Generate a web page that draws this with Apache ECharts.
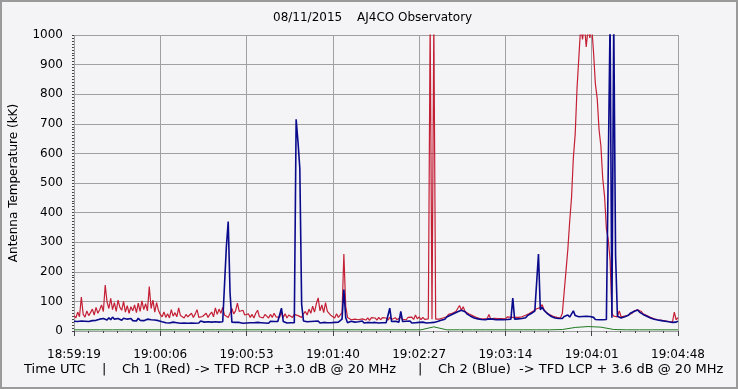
<!DOCTYPE html>
<html>
<head>
<meta charset="utf-8">
<script src="https://cdn.jsdelivr.net/npm/echarts@6/dist/echarts.min.js"></script>
<style>html,body{margin:0;padding:0;background:#f4f4f7;}#c{width:738px;height:389px;}</style>
</head>
<body>
<div id="c"></div>
<script>
// x tick labels (every 47 s from 18:59:19)
var tickLabels = ['18:59:19','19:00:06','19:00:53','19:01:40','19:02:27','19:03:14','19:04:01','19:04:48'];
var yTicks = [0,100,200,300,400,500,600,700,800,900,1000];
// Sample step (seconds) for each channel
var chStep = 1;
var greenStep = 7;
// Ch 1 (Red) antenna temperature, one sample per second from 18:59:19
var red = [
52,44,64,48,115,56,47,68,52,62,
74,54,80,60,72,88,66,155,98,76,
110,72,96,66,104,80,70,100,64,86,
60,82,68,88,62,94,66,102,72,92,
68,150,76,104,64,96,70,56,48,64,
46,58,44,72,50,62,48,78,52,46,
44,56,48,42,60,46,57,72,46,52,
49,44,60,46,56,64,48,78,56,74,
60,80,54,58,46,60,76,58,68,94,
66,60,70,54,48,58,46,56,44,60,
70,48,52,44,56,62,44,56,46,60,
48,54,46,64,46,58,44,54,60,46,
56,62,52,56,46,58,66,54,74,60,
84,64,92,112,68,88,62,96,66,64,
52,56,44,58,46,50,62,260,84,46,
46,38,43,40,46,38,44,41,47,37,
44,36,45,39,44,37,46,38,45,40,
44,37,46,39,42,45,38,44,47,39,
45,38,46,40,47,39,54,41,48,38,
46,39,44,41,1050,40,1050,40,46,40,
46,44,50,48,56,54,60,58,66,64,
86,70,82,66,66,58,58,52,52,46,
48,42,47,41,46,41,56,41,47,43,
45,42,47,42,46,41,48,42,46,44,
46,41,46,45,48,47,53,51,59,58,
67,66,75,72,79,89,72,64,64,56,
56,50,52,46,48,44,60,132,204,276,
370,450,585,665,820,925,1030,985,1040,960,
1020,990,1030,940,835,785,680,625,515,455,
345,310,240,60,50,48,48,68,48,50,
50,56,54,60,60,67,65,72,66,66,
58,59,52,52,46,47,41,44,38,41,
36,39,34,37,32,36,31,64,38,45
];
// Ch 2 (Blue) antenna temperature, one sample per second
var blue = [
33,37,32,36,34,38,33,37,32,36,
35,40,36,42,40,43,42,46,37,45,
38,47,40,42,42,44,36,43,37,40,
36,42,35,41,34,43,36,42,35,41,
40,40,38,41,37,43,35,36,31,33,
28,33,27,32,30,31,28,33,26,32,
27,33,26,32,27,33,26,32,27,34,
28,30,29,31,28,30,29,31,28,30,
28,31,29,285,370,130,30,32,29,31,
29,32,26,32,27,33,28,30,28,31,
29,31,28,34,27,32,26,33,27,32,
30,32,27,77,32,32,27,33,28,30,
28,715,640,550,90,34,28,31,29,32,
27,33,28,34,27,32,29,31,28,34,
28,31,29,32,30,32,40,140,45,28,
27,33,28,30,29,31,28,34,27,32,
29,31,28,30,29,32,27,33,28,30,
28,33,77,32,27,33,28,30,66,32,
27,33,28,34,27,33,28,31,29,32,
30,32,27,33,28,34,29,35,32,38,
36,42,40,47,46,53,52,59,58,65,
64,70,64,65,58,58,50,51,44,46,
41,44,39,44,38,43,41,42,40,43,
38,44,39,45,38,44,39,45,40,111,
40,43,41,44,42,47,45,52,51,59,
59,67,67,260,72,80,70,68,58,57,
49,50,44,47,42,45,42,49,48,54,
47,53,68,52,46,48,47,49,43,50,
44,49,43,46,39,41,38,40,38,41,
39,42,1050,45,1050,255,50,49,44,50,
48,54,53,60,59,66,64,71,64,64,
56,57,50,51,44,46,40,42,37,40,
35,38,33,36,31,34,29,32,30,33
];
// Green trace, one sample every 7 s
var green = [
4,4,4,4,4,4,4,4,4,4,
4,4,4,4,4,4,4,4,4,4,
4,4,4,4,4,4,4,4,14,4,
4,4,4,4,4,4,4,4,5,12,
15,13,5,4,4,4,4,4
];

var chart = echarts.init(document.getElementById('c'), null, {renderer:'canvas'});
var font = 'DejaVu Sans';
function pts(arr, step){ return arr.map(function(v,i){ return [i*step, v]; }); }
var f12 = '12px "DejaVu Sans"';
var f13 = '13px "DejaVu Sans"';

chart.setOption({
  animation: false,
  backgroundColor: '#f4f4f7',
  grid: {left: 73, right: 60, top: 35, bottom: 58, containLabel: false},
  graphic: [
    {type:'rect', shape:{x:1,y:1,width:736,height:387}, style:{fill:'none', stroke:'#9a9a9a', lineWidth:2}, silent:true},
    {type:'text', left: 273, top: 12, style:{text:'08/11/2015', font:f12, fill:'#000'}},
    {type:'text', left: 357, top: 12, style:{text:'AJ4CO Observatory', font:f12, fill:'#000'}},
    {type:'text', left: 24, top: 363, style:{text:'Time UTC', font:f13, fill:'#000'}},
    {type:'text', left: 102, top: 363, style:{text:'|', font:f13, fill:'#000'}},
    {type:'text', left: 122, top: 363, style:{text:'Ch 1 (Red) -> TFD RCP +3.0 dB @ 20 MHz', font:f13, fill:'#000'}},
    {type:'text', left: 418, top: 363, style:{text:'|', font:f13, fill:'#000'}},
    {type:'text', left: 438, top: 363, style:{text:'Ch 2 (Blue)  -> TFD LCP + 3.6 dB @ 20 MHz', font:f13, fill:'#000'}}
  ],
  xAxis: {
    type: 'value', min: 0, max: 329, interval: 47, offset: 6,
    axisLine: {show: false},
    axisTick: {show: true, length: 5, lineStyle: {color: '#444'}},
    minorTick: {show: true, splitNumber: 6, length: 2, lineStyle: {color: '#444'}},
    axisLabel: {margin: 12, color: '#000', fontFamily: font, fontSize: 12,
      formatter: function(v){ return tickLabels[Math.round(v/47)] || ''; }},
    splitLine: {show: true, lineStyle: {color: '#a0a0a0', width: 1}}
  },
  yAxis: {
    type: 'value', min: 0, max: 1000, interval: 100, offset: 3,
    name: 'Antenna Temperature (kK)', nameLocation: 'middle', nameGap: 51,
    nameTextStyle: {color: '#000', fontFamily: font, fontSize: 12},
    axisLine: {show: false},
    axisTick: {show: true, length: 2, lineStyle: {color: '#444'}},
    minorTick: {show: true, splitNumber: 10, length: 2, lineStyle: {color: '#444'}},
    axisLabel: {margin: 8, color: '#000', fontFamily: font, fontSize: 12,
      formatter: function(v){ return yTicks.indexOf(v) >= 0 ? String(v) : ''; }},
    splitLine: {show: true, lineStyle: {color: '#a0a0a0', width: 1}}
  },
  series: [
    {type:'line', name:'Green', data: pts(green, greenStep), showSymbol:false, symbol:'none',
      lineStyle:{color:'#1f7a1f', width:1}, z:2},
    {type:'line', name:'Ch 1 (Red)', data: pts(red, chStep), showSymbol:false, symbol:'none',
      lineStyle:{color:'#c41f35', width:1.2}, z:3},
    {type:'line', name:'Ch 2 (Blue)', data: pts(blue, chStep), showSymbol:false, symbol:'none',
      lineStyle:{color:'#0a0a8c', width:1.6}, z:4}
  ]
});
</script>
</body>
</html>
